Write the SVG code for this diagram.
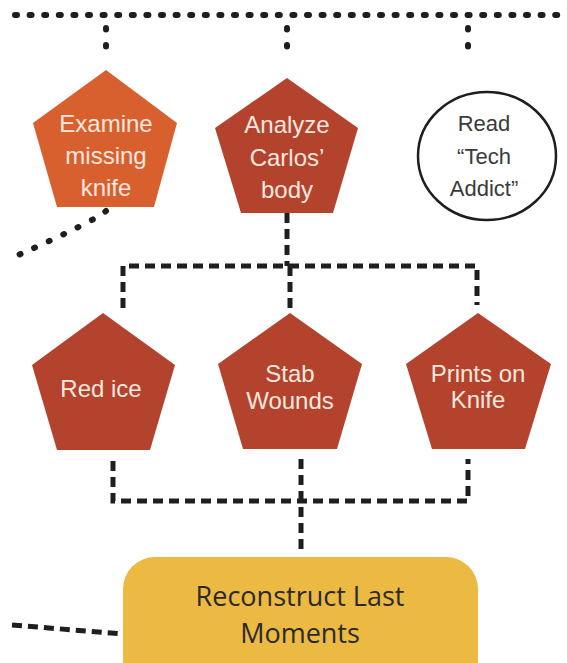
<svg xmlns="http://www.w3.org/2000/svg" width="567" height="663" viewBox="0 0 567 663">
  <style>
    .dots { fill: none; stroke: #1e1e1e; stroke-width: 6; stroke-linecap: round; }
    .dash { fill: none; stroke: #1e1e1e; stroke-width: 5; stroke-dasharray: 10 6; }
    .penta-light { fill: #D8602F; }
    .penta { fill: #B4432E; }
    .ptext { font-family: "Liberation Sans", Arial, sans-serif; font-size: 24px; fill: #F8E8DF; text-anchor: middle; }
    .ctext { font-family: "Liberation Sans", Arial, sans-serif; font-size: 22px; fill: #3a3a3a; text-anchor: middle; }
    .rtext { font-family: "Open Sans", "Noto Sans", sans-serif; font-size: 27px; fill: #2a2a2a; text-anchor: middle; }
  </style>
  <rect width="567" height="663" fill="#ffffff"/>

  <g id="connectors">
    <!-- dotted links from the top -->
    <path class="dots" d="M15 15 H567" stroke-dasharray="2 12.6"/>
    <path class="dots" d="M106 28 V62" stroke-dasharray="1.5 15.5"/>
    <path class="dots" d="M287 28 V62" stroke-dasharray="1.5 15.5"/>
    <path class="dots" d="M468 28 V62" stroke-dasharray="1.5 15.5"/>
    <path class="dots" d="M106 211 Q95 221 16 256" stroke-dasharray="1 15"/>
    <!-- body analysis bracket -->
    <path class="dash" d="M287 213 V266"/>
    <path class="dash" d="M123 308 V266 H477 V305"/>
    <path class="dash" d="M290 266 V308"/>
    <!-- evidence to reconstruction -->
    <path class="dash" d="M113 461 V501 H468 V459"/>
    <path class="dash" d="M301 459 V555"/>
    <path class="dash" d="M12 625 L123 634" stroke-dasharray="11 8"/>
  </g>

  <g id="examine-knife">
    <polygon class="penta-light" points="106,70 177,123 154,207 57,207 33,123"/>
    <text class="ptext" x="106" y="132">Examine</text>
    <text class="ptext" x="106" y="164">missing</text>
    <text class="ptext" x="106" y="196">knife</text>
  </g>

  <g id="analyze-body">
    <polygon class="penta" points="287,78 358,128 333,213 241,213 215,128"/>
    <text class="ptext" x="287" y="133">Analyze</text>
    <text class="ptext" x="287" y="166">Carlos’</text>
    <text class="ptext" x="287" y="198">body</text>
  </g>

  <g id="read-tech-addict">
    <ellipse cx="487" cy="156" rx="69" ry="64" fill="#ffffff" stroke="#1e1e1e" stroke-width="2.5"/>
    <text class="ctext" x="484" y="131">Read</text>
    <text class="ctext" x="484" y="164">“Tech</text>
    <text class="ctext" x="484" y="196">Addict”</text>
  </g>

  <g id="red-ice">
    <polygon class="penta" points="103,313 175,365 150,450 57,450 32,365"/>
    <text class="ptext" x="101" y="397">Red ice</text>
  </g>

  <g id="stab-wounds">
    <polygon class="penta" points="290,313 362,364 337,449 243,449 218,364"/>
    <text class="ptext" x="290" y="382">Stab</text>
    <text class="ptext" x="290" y="409">Wounds</text>
  </g>

  <g id="prints-on-knife">
    <polygon class="penta" points="478,313 551,364 525,449 432,449 406,364"/>
    <text class="ptext" x="478" y="382">Prints on</text>
    <text class="ptext" x="478" y="408">Knife</text>
  </g>

  <g id="reconstruct">
    <rect x="123" y="557" width="355" height="135" rx="32" fill="#ECB942"/>
    <text class="rtext" x="300" y="606">Reconstruct Last</text>
    <text class="rtext" x="300" y="643">Moments</text>
  </g>
</svg>
